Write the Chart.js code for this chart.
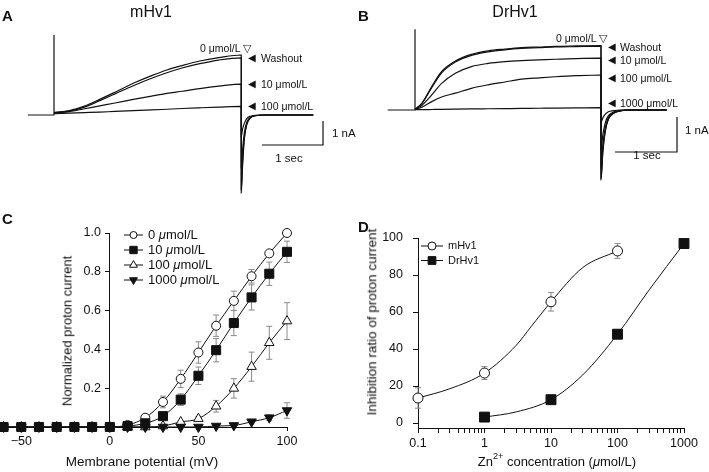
<!DOCTYPE html>
<html>
<head>
<meta charset="utf-8">
<script src="https://cdn.jsdelivr.net/npm/chart.js@4.4.1/dist/chart.umd.min.js"></script>
<style>
  body { margin: 0; background: #fff; }
  #fig { position: relative; width: 709px; height: 472px; overflow: hidden; font-family: 'Liberation Sans', Arial, sans-serif; color: #111; }
  canvas { position: absolute; }
  .t { position: absolute; white-space: nowrap; line-height: 1; }
  .t sup { font-size: 9px; position: relative; top: -2px; }
</style>
</head>
<body>
<div id="fig">
  <canvas id="cA" width="355" height="200" style="left:0;top:0"></canvas>
  <canvas id="cB" width="354" height="200" style="left:355px;top:0"></canvas>
  <canvas id="cC" width="355" height="272" style="left:0;top:200px"></canvas>
  <canvas id="cD" width="354" height="272" style="left:355px;top:200px"></canvas>
</div>
<script>
// ---------------- data ----------------
// A: mHv1 current traces (time s, current nA)
const aPre = -0.43
const aSpike = 3.33
const aTime = [0, 0.25, 0.5, 0.75, 1.0, 1.3, 1.6, 1.85, 2.1, 2.39, 2.7, 3.07]
const a0 = [0.1, 0.18, 0.37, 0.65, 0.95, 1.32, 1.64, 1.875, 2.06, 2.25, 2.39, 2.5]
const aWash = [0.1, 0.16, 0.33, 0.6, 0.88, 1.22, 1.53, 1.76, 1.96, 2.14, 2.29, 2.38]
const a10 = [0.08, 0.14, 0.26, 0.38, 0.5, 0.65, 0.79, 0.9, 0.99, 1.1, 1.2, 1.29]
const a100 = [0.06, 0.08, 0.1, 0.12, 0.15, 0.18, 0.21, 0.24, 0.27, 0.3, 0.33, 0.36]
const aTailTime = [3.07, 3.09, 3.12, 3.16, 3.22, 3.3, 3.45, 4.25]
const aTail0 = [-3.25, -2.2, -1.0, -0.4, -0.12, -0.03, 0, 0]
const aTailWash = [-3.1, -2.0, -0.95, -0.38, -0.11, -0.03, 0, 0]
const aTail10 = [-2.2, -1.5, -0.75, -0.3, -0.09, -0.02, 0, 0]
const aTail100 = [-0.9, -0.6, -0.35, -0.15, -0.05, -0.01, 0, 0]

// B: DrHv1 current traces
const bPre = -0.44
const bSpike = 2.31
const bTime = [0, 0.11, 0.27, 0.43, 0.65, 0.91, 1.18, 1.45, 1.72, 2.0, 2.26, 2.6, 3.0]
const b0 = [0.02, 0.19, 0.67, 1.1, 1.4, 1.59, 1.69, 1.74, 1.78, 1.8, 1.82, 1.83, 1.84]
const bWash = [0.02, 0.18, 0.64, 1.06, 1.37, 1.56, 1.66, 1.72, 1.76, 1.78, 1.8, 1.81, 1.82]
const b10 = [0.02, 0.13, 0.43, 0.76, 1.05, 1.24, 1.33, 1.38, 1.41, 1.43, 1.45, 1.47, 1.48]
const b100 = [0.02, 0.08, 0.24, 0.37, 0.48, 0.62, 0.72, 0.8, 0.88, 0.92, 0.95, 0.98, 1.0]
const b1000 = [0.01, 0.01, 0.015, 0.02, 0.025, 0.03, 0.035, 0.04, 0.045, 0.05, 0.055, 0.06, 0.065]
const bTailTime = [3.0, 3.03, 3.07, 3.12, 3.2, 3.3, 3.45, 4.06]
const bTail0 = [-2.0, -1.2, -0.6, -0.26, -0.1, -0.03, 0, 0]
const bTailWash = [-1.95, -1.15, -0.57, -0.25, -0.09, -0.03, 0, 0]
const bTail10 = [-1.65, -1.0, -0.5, -0.22, -0.08, -0.02, 0, 0]
const bTail100 = [-1.15, -0.7, -0.36, -0.16, -0.06, -0.02, 0, 0]
const bTail1000 = [-0.35, -0.22, -0.12, -0.05, -0.02, 0, 0, 0]

// C: normalized I-V
const cVolt = [-60, -50, -40, -30, -20, -10, 0, 10, 20, 30, 40, 50, 60, 70, 80, 90, 100]
const c0 = [0, 0, 0, 0, 0, 0, 0, 0.01, 0.048, 0.129, 0.248, 0.384, 0.522, 0.65, 0.777, 0.895, 1.0]
const c0Err = [0, 0, 0, 0, 0, 0, 0, 0, 0.015, 0.03, 0.045, 0.055, 0.055, 0.05, 0.035, 0.015, 0.005]
const c10 = [0, 0, 0, 0, 0, 0, 0, 0.005, 0.019, 0.056, 0.141, 0.264, 0.396, 0.536, 0.668, 0.79, 0.903]
const c10Err = [0, 0, 0, 0, 0, 0, 0, 0, 0.005, 0.015, 0.03, 0.045, 0.06, 0.065, 0.065, 0.06, 0.055]
const c100 = [0, 0, 0, 0, 0, 0, 0, 0, 0, 0.005, 0.026, 0.043, 0.107, 0.199, 0.311, 0.434, 0.546]
const c100Err = [0, 0, 0, 0, 0, 0, 0, 0, 0, 0, 0.005, 0.01, 0.03, 0.05, 0.075, 0.085, 0.095]
const c1000 = [0, 0, 0, 0, 0, 0, 0, 0, 0, 0, 0, 0, 0.005, 0.008, 0.027, 0.048, 0.085]
const c1000Err = [0, 0, 0, 0, 0, 0, 0, 0, 0, 0, 0, 0, 0, 0, 0.005, 0.015, 0.04]
const cXTicks = [-50, 0, 50, 100]
const cYTicks = [0.2, 0.4, 0.6, 0.8, 1.0]

// D: inhibition vs Zn2+ concentration
const dConcM = [0.1, 1, 10, 100]
const dM = [13.5, 27, 65.5, 93]
const dMErr = [5.5, 3.5, 5, 4]
const dConcDr = [1, 10, 100, 1000]
const dDr = [3.2, 12.6, 48, 97]
const dDrErr = [0.5, 2.5, 2.5, 0.5]
const dFitConcM = [0.1, 0.3, 1, 3, 5, 10, 30, 100]
const dFitM = [13.5, 18.5, 27, 42, 52, 65.5, 84, 93]
const dFitConcDr = [1, 3, 10, 30, 100, 300, 1000]
const dFitDr = [3.2, 6, 12.6, 26, 48, 72, 97]
const dDecades = [0.1, 1, 10, 100, 1000]
const dYTicks = [0, 20, 40, 60, 80, 100]

// ---------------- helpers ----------------
Chart.defaults.font.family = '"Liberation Sans", Arial, sans-serif'
Chart.defaults.color = '#111'
const ink = '#111'
const tickFont = '12.5px "Liberation Sans", Arial, sans-serif'

const pts = (xs, ys) => xs.map((x, i) => ({ x: x, y: ys[i] }))

function traceSet(time, vals, tailTime, tail) {
  return {
    data: pts(time, vals).concat(pts(tailTime, tail)),
    borderColor: ink, borderWidth: 1.2, pointRadius: 0,
    cubicInterpolationMode: 'monotone', fill: false
  }
}
function spikeSet(pre, peak, start) {
  return {
    data: [{ x: pre, y: 0 }, { x: 0, y: 0 }, { x: 0, y: peak }, { x: 0, y: start }],
    borderColor: ink, borderWidth: 1.2, pointRadius: 0, tension: 0
  }
}
// scale bar: 1 sec horizontal, 1 nA vertical, corner at (cx, cy)
function barSet(cx, cy) {
  return {
    data: [{ x: cx - 1, y: cy }, { x: cx, y: cy }, { x: cx, y: cy + 1 }],
    borderColor: ink, borderWidth: 1.2, pointRadius: 0, tension: 0
  }
}
function traceChart(id, xmin, xmax, ymin, ymax, datasets) {
  new Chart(document.getElementById(id), {
    type: 'line',
    data: { datasets: datasets },
    options: {
      responsive: false, animation: false, devicePixelRatio: 1,
      layout: { padding: 0, autoPadding: false },
      plugins: { legend: { display: false }, tooltip: { enabled: false } },
      scales: {
        x: { type: 'linear', display: false, min: xmin, max: xmax },
        y: { type: 'linear', display: false, min: ymin, max: ymax }
      }
    }
  })
}

// error bars drawn behind the markers, through the chart scales
const errorBars = {
  id: 'errorBars',
  beforeDatasetsDraw(chart) {
    const ctx = chart.ctx
    const xs = chart.scales.x, ys = chart.scales.y
    ctx.save()
    ctx.strokeStyle = '#8a8a8a'
    ctx.lineWidth = 1
    chart.data.datasets.forEach(ds => {
      if (!ds.errors) return
      ds.data.forEach((p, i) => {
        const e = ds.errors[i]
        if (!e) return
        const x = xs.getPixelForValue(p.x)
        const y1 = ys.getPixelForValue(p.y + e), y2 = ys.getPixelForValue(p.y - e)
        ctx.beginPath()
        ctx.moveTo(x, y1); ctx.lineTo(x, y2)
        ctx.moveTo(x - 3, y1); ctx.lineTo(x + 3, y1)
        ctx.moveTo(x - 3, y2); ctx.lineTo(x + 3, y2)
        ctx.stroke()
      })
    })
    ctx.restore()
  }
}

// y tick labels placed left of an axis that crosses at xValue
function yLabels(xValue, offset, fmt) {
  return {
    id: 'yLabels',
    afterDraw(chart) {
      const ctx = chart.ctx, xs = chart.scales.x, ys = chart.scales.y
      const x = xs.getPixelForValue(xValue) - offset
      ctx.save()
      ctx.font = tickFont
      ctx.fillStyle = ink
      ctx.textAlign = 'right'
      ctx.textBaseline = 'middle'
      ys.ticks.forEach(t => ctx.fillText(fmt(t.value), x, ys.getPixelForValue(t.value)))
      ctx.restore()
    }
  }
}

// legend with line + marker, text may contain italic parts
function lineLegend(x0, y0, dy, lineW, fontSize) {
  return {
    id: 'lineLegend',
    afterDraw(chart) {
      const ctx = chart.ctx
      const items = chart.data.datasets.filter(d => d.legendText)
      ctx.save()
      items.forEach((d, i) => {
        const y = y0 + i * dy
        ctx.strokeStyle = ink; ctx.lineWidth = 1
        ctx.beginPath(); ctx.moveTo(x0, y); ctx.lineTo(x0 + lineW, y); ctx.stroke()
        ctx.fillStyle = d.pointBackgroundColor
        Chart.helpers.drawPoint(ctx, {
          pointStyle: d.pointStyle, radius: d.legendRadius || d.pointRadius,
          rotation: d.pointRotation || 0, borderWidth: 1
        }, x0 + lineW / 2, y)
        let x = x0 + lineW + 5
        ctx.fillStyle = ink
        ctx.textBaseline = 'middle'
        d.legendText.forEach(([s, it]) => {
          ctx.font = (it ? 'italic ' : '') + fontSize + 'px "Liberation Sans", Arial, sans-serif'
          ctx.fillText(s, x, y)
          x += ctx.measureText(s).width
        })
      })
      ctx.restore()
    }
  }
}

// axis that sits inside the chart area; label overflow must not shrink the area
const noPad = s => { s.paddingLeft = 0; s.paddingRight = 0; s.paddingTop = 0; s.paddingBottom = 0 }
function axis(extra, tickLen, showLabels) {
  return Object.assign({
    border: { display: true, color: ink, width: 1 },
    grid: { display: true, drawOnChartArea: false, drawTicks: true, color: ink, tickLength: tickLen },
    ticks: { display: showLabels, font: { size: 12.5 }, color: ink, padding: 4, maxRotation: 0, autoSkip: false },
    afterFit: noPad
  }, extra)
}

// ---------------- panel A ----------------
traceChart('cA', -54 / 61, 301 / 61, -85 / 24, 115 / 24, [
  spikeSet(aPre, aSpike, a0[0]),
  traceSet(aTime, a0, aTailTime, aTail0),
  traceSet(aTime, aWash, aTailTime, aTailWash),
  traceSet(aTime, a10, aTailTime, aTail10),
  traceSet(aTime, a100, aTailTime, aTail100),
  barSet(4.41, -1.25)
])

// ---------------- panel B ----------------
traceChart('cB', -60 / 62, 294 / 62, -90 / 35, 110 / 35, [
  spikeSet(bPre, bSpike, b0[0]),
  traceSet(bTime, b0, bTailTime, bTail0),
  traceSet(bTime, bWash, bTailTime, bTailWash),
  traceSet(bTime, b10, bTailTime, bTail10),
  traceSet(bTime, b100, bTailTime, bTail100),
  traceSet(bTime, b1000, bTailTime, bTail1000),
  barSet(4.226, -1.2)
])

// ---------------- panel C ----------------
function ivSet(vals, errs, style, fillCol, rad, legRad, rot, order, legend) {
  return {
    data: pts(cVolt, vals), errors: errs,
    borderColor: ink, borderWidth: 1, cubicInterpolationMode: 'monotone',
    pointStyle: style, pointRadius: rad, pointRotation: rot, legendRadius: legRad,
    pointBackgroundColor: fillCol, pointBorderColor: ink, pointBorderWidth: 1,
    order: order, clip: false, legendText: legend
  }
}
new Chart(document.getElementById('cC'), {
  type: 'line',
  data: {
    datasets: [
      ivSet(c0, c0Err, 'circle', '#fff', 4.5, 3.5, 0, 3, [['0 ', 0], ['\u03bc', 1], ['mol/L', 0]]),
      ivSet(c10, c10Err, 'rect', ink, 6.4, 5.2, 0, 0, [['10 ', 0], ['\u03bc', 1], ['mol/L', 0]]),
      ivSet(c100, c100Err, 'triangle', '#fff', 5.5, 4.5, 0, 2, [['100 ', 0], ['\u03bc', 1], ['mol/L', 0]]),
      ivSet(c1000, c1000Err, 'triangle', ink, 5.5, 4.5, 180, 1, [['1000 ', 0], ['\u03bc', 1], ['mol/L', 0]])
    ]
  },
  options: {
    responsive: false, animation: false, devicePixelRatio: 1,
    layout: { padding: { left: 0, right: 68, top: 33, bottom: 45 }, autoPadding: false },
    plugins: { legend: { display: false }, tooltip: { enabled: false } },
    scales: {
      x: axis({
        type: 'linear', min: -62, max: 100, position: { y: 0 },
        afterBuildTicks: s => { s.ticks = cXTicks.map(v => ({ value: v })) },
        ticks: {
          font: { size: 12.5 }, color: ink, padding: 4, maxRotation: 0, autoSkip: false,
          callback: v => v < 0 ? '\u2212' + Math.abs(v) : String(v)
        }
      }, 3, true),
      y: axis({
        type: 'linear', min: 0, max: 1, position: { x: 0 },
        afterBuildTicks: s => { s.ticks = cYTicks.map(v => ({ value: v })) }
      }, 4, false)
    }
  },
  plugins: [errorBars, yLabels(0, 9, v => v.toFixed(1)), lineLegend(124, 35, 15, 19, 13)]
})

// ---------------- panel D ----------------
const isDecade = v => dDecades.some(d => Math.abs(v / d - 1) < 1e-6)
// tick marks at 1..9 x each decade, labels only on decades
const dXTicks = []
dDecades.slice(0, -1).forEach(d => { for (let k = 1; k < 10; k++) dXTicks.push(+(k * d).toPrecision(3)) })
dXTicks.push(dDecades[dDecades.length - 1])

new Chart(document.getElementById('cD'), {
  type: 'line',
  data: {
    datasets: [
      {
        data: pts(dConcM, dM), errors: dMErr, showLine: false,
        pointStyle: 'circle', pointRadius: 5, pointBackgroundColor: '#fff',
        pointBorderColor: ink, pointBorderWidth: 1, clip: false,
        legendText: [['mHv1', 0]], legendRadius: 4
      },
      {
        data: pts(dConcDr, dDr), errors: dDrErr, showLine: false,
        pointStyle: 'rect', pointRadius: 7, pointBackgroundColor: ink,
        pointBorderColor: ink, pointBorderWidth: 1, clip: false,
        legendText: [['DrHv1', 0]], legendRadius: 5.5
      },
      {
        data: pts(dFitConcM, dFitM), borderColor: ink, borderWidth: 1,
        pointRadius: 0, cubicInterpolationMode: 'monotone', order: 5
      },
      {
        data: pts(dFitConcDr, dFitDr), borderColor: ink, borderWidth: 1,
        pointRadius: 0, cubicInterpolationMode: 'monotone', order: 5
      }
    ]
  },
  options: {
    responsive: false, animation: false, devicePixelRatio: 1,
    layout: { padding: { left: 63, right: 25, top: 38, bottom: 44 }, autoPadding: false },
    plugins: { legend: { display: false }, tooltip: { enabled: false } },
    scales: {
      x: axis({
        type: 'logarithmic', min: 0.1, max: 1000, position: { y: -2.7 },
        afterBuildTicks: s => { s.ticks = dXTicks.map(v => ({ value: v })) },
        ticks: {
          font: { size: 12.5 }, color: ink, padding: 4, maxRotation: 0, autoSkip: false,
          callback: v => isDecade(v) ? String(v) : ''
        }
      }, 4, true),
      y: axis({
        type: 'linear', min: -2.7, max: 100, position: { x: 0.1 },
        afterBuildTicks: s => { s.ticks = dYTicks.map(v => ({ value: v })) }
      }, 5, false)
    }
  },
  plugins: [errorBars, yLabels(0.1, 15, v => String(v)), lineLegend(66, 46, 14.5, 22, 11)]
})

// ---------------- text ----------------
const fig = document.getElementById('fig')
function put(html, x, y, size, align, extra) {
  const el = document.createElement('div')
  el.className = 't'
  el.innerHTML = html
  el.style.left = x + 'px'
  el.style.top = y + 'px'
  el.style.fontSize = size + 'px'
  const ax = { l: '0', c: '-50%', r: '-100%' }[align || 'l']
  el.style.transform = 'translate(' + ax + ', -50%)' + (extra === 'rot' ? ' rotate(-90deg)' : '')
  if (extra === 'bold') el.style.fontWeight = 'bold'
  fig.appendChild(el)
}

// panel letters
put('A', 2, 15, 15, 'l', 'bold')
put('B', 358, 15, 15, 'l', 'bold')
put('C', 2, 218, 15, 'l', 'bold')
put('D', 358, 226, 15, 'l', 'bold')

// A labels
put('mHv1', 151, 12, 16, 'c')
put('0 \u03bcmol/L \u25bd', 251, 48, 10.5, 'r')
put('\u25c0', 251.5, 58, 10, 'c'); put('Washout', 261, 58, 10.5)
put('\u25c0', 251.5, 84, 10, 'c'); put('10 \u03bcmol/L', 261, 84, 10.5)
put('\u25c0', 251.5, 106, 10, 'c'); put('100 \u03bcmol/L', 261, 106, 10.5)
put('1 nA', 332, 134, 11.5)
put('1 sec', 289, 159, 11.5, 'c')

// B labels
put('DrHv1', 515, 12, 16, 'c')
put('0 \u03bcmol/L \u25bd', 607, 38, 10.5, 'r')
put('\u25c0', 611.5, 47, 10, 'c'); put('Washout', 620, 47, 10.5)
put('\u25c0', 611.5, 60, 10, 'c'); put('10 \u03bcmol/L', 620, 60, 10.5)
put('\u25c0', 611.5, 78, 10, 'c'); put('100 \u03bcmol/L', 620, 78, 10.5)
put('\u25c0', 611.5, 103, 10, 'c'); put('1000 \u03bcmol/L', 620, 103, 10.5)
put('1 nA', 685, 131, 11.5)
put('1 sec', 647, 156, 11.5, 'c')

// axis titles
put('Normalized proton current', 67, 331, 13, 'c', 'rot')
put('Membrane potential (mV)', 142, 462, 13.5, 'c')
put('Inhibition ratio of proton current', 372, 322, 13.5, 'c', 'rot')
put('Zn<sup>2+</sup> concentration (<i>\u03bc</i>mol/L)', 557, 461, 13, 'c')
</script>
</body>
</html>
